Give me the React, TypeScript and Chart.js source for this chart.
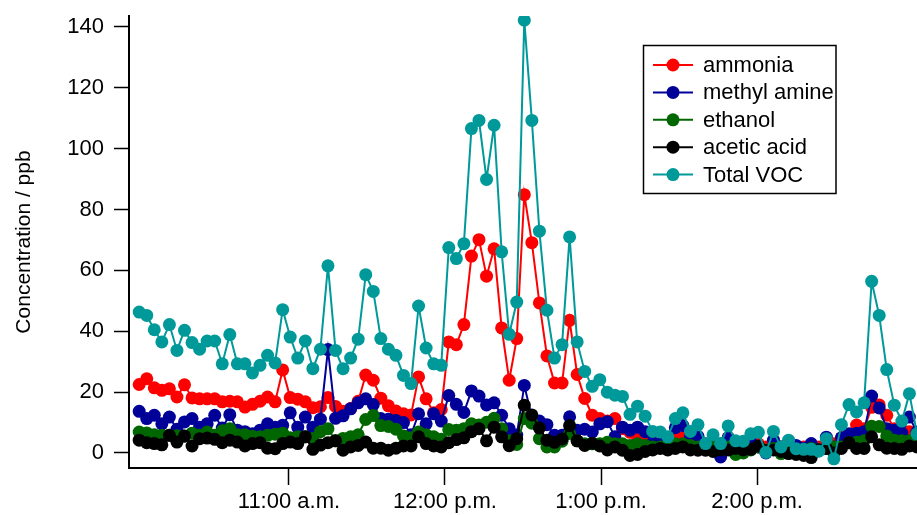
import { useEffect, useRef } from "react";
import { Chart, registerables } from "chart.js";

Chart.register(...registerables);

const FONT = "'Liberation Sans', Arial, sans-serif";

const SERIES_NAMES = ["ammonia", "methyl amine", "ethanol", "acetic acid", "Total VOC"];
const SERIES_COLORS = ["#ff0000", "#000099", "#006600", "#000000", "#009999"];

// sampling grid (minutes after midnight)
const FIRST_SAMPLE_MIN = 602.42;
const SAMPLE_STEP_MIN = 2.9035;

const X_MIN = 598.5;
const X_MAX = 901.5;
const HOUR_TICKS = [660, 720, 780, 840];
const HOUR_LABELS = ["11:00 a.m.", "12:00 p.m.", "1:00 p.m.", "2:00 p.m."];
const Y_TICKS = [0, 20, 40, 60, 80, 100, 120, 140];

const AMMONIA = [
  22.5, 24.4, 21.4, 20.6, 21.1, 18.4, 22.4, 18.1, 17.8, 17.8,
  17.8, 16.8, 17.0, 16.8, 15.1, 16.0, 17.0, 18.4, 16.8, 27.3,
  18.2, 17.7, 16.8, 14.9, 15.2, 18.2, 15.3, 13.7, 14.6, 17.0,
  25.6, 23.9, 18.0, 15.5, 13.8, 12.9, 12.5, 25.0, 17.8, 13.2,
  14.3, 36.5, 35.6, 42.2, 64.7, 70.1, 58.1, 67.1, 41.1, 23.9,
  37.6, 84.9, 69.1, 49.3, 31.9, 23.0, 23.0, 43.6, 25.8, 17.9,
  12.4, 11.3, 10.5, 11.3, 8.0, 6.8, 5.0, 4.5, 3.5, 3.0,
  2.5, 4.5, 5.0, 4.0, 3.0, 3.0, 3.0, 3.0, 5.0, 3.0,
  3.0, 3.0, 3.0, 2.0, 3.0, 2.0, 3.0, 2.0, 2.0, 2.0,
  2.0, 3.0, 3.0, 5.0, 6.0, 9.2, 8.0, 15.0, 15.8, 12.4,
  8.0, 6.0, 7.0, 4.0,
];

const METHYL_AMINE = [
  13.7, 11.3, 12.4, 9.6, 11.8, 7.8, 10.2, 11.3, 8.5, 9.6,
  12.4, 8.2, 12.6, 7.5, 7.0, 6.3, 7.5, 9.6, 8.5, 9.1,
  13.2, 8.5, 11.8, 8.5, 11.1, 34.0, 11.4, 12.2, 14.5, 16.5,
  17.8, 15.9, 11.3, 11.1, 10.7, 10.0, 6.0, 12.9, 9.6, 12.9,
  10.5, 18.9, 16.0, 13.3, 20.4, 18.7, 15.8, 16.5, 12.4, 8.0,
  5.9, 22.2, 11.8, 10.5, 9.3, 5.8, 5.8, 11.9, 7.5, 7.8,
  6.9, 9.6, 10.3, 5.3, 8.5, 7.5, 8.5, 7.0, 3.4, 3.0,
  3.5, 8.3, 9.0, 5.3, 5.5, 2.5, 3.0, -1.3, 5.0, 3.0,
  3.5, 3.5, 2.0, 0.0, 4.2, 2.0, 3.5, 2.5, 1.5, 3.1,
  1.0, 5.2, 2.0, 5.0, 6.3, 6.5, 7.0, 18.7, 14.8, 8.0,
  7.5, 6.5, 11.8, 6.9,
];

const ETHANOL = [
  6.9, 6.6, 6.0, 5.8, 5.8, 5.7, 5.5, 6.5, 5.8, 6.9,
  5.8, 7.3, 8.0, 6.0, 6.0, 5.5, 5.3, 5.8, 6.2, 6.5,
  5.0, 5.3, 5.3, 4.8, 7.0, 8.0, 4.0, 4.8, 5.3, 6.0,
  11.0, 12.3, 9.0, 8.7, 7.8, 5.6, 5.0, 6.9, 6.0, 5.3,
  4.5, 7.7, 7.5, 8.0, 9.6, 9.2, 10.1, 11.4, 8.0, 4.0,
  2.8, 11.3, 9.8, 4.7, 2.0, 2.0, 3.9, 6.4, 4.0, 3.0,
  3.0, 3.0, 3.5, 3.0, 3.0, 2.5, 3.0, 2.5, 2.0, 2.0,
  2.5, 3.0, 3.0, 2.5, 2.0, 2.0, 2.0, 1.5, 2.0, -0.5,
  0.0, 1.0, 2.0, 1.0, 1.5, -0.2, 1.5, 1.0, 1.0, 1.5,
  1.0, 1.5, 2.0, 2.0, 3.4, 3.5, 4.0, 8.8, 8.7, 5.6,
  4.2, 4.0, 4.0, 3.0,
];

const ACETIC_ACID = [
  4.2, 3.4, 3.1, 2.7, 5.8, 3.6, 5.6, 2.3, 4.7, 4.9,
  4.5, 3.4, 4.2, 3.6, 2.3, 3.1, 3.4, 1.6, 1.4, 3.1,
  3.6, 3.1, 5.3, 1.2, 2.6, 3.4, 4.0, 0.9, 2.0, 2.5,
  3.6, 1.6, 1.6, 0.9, 1.6, 2.3, 2.3, 5.3, 3.1, 2.3,
  2.0, 3.4, 4.4, 5.0, 7.0, 8.0, 4.0, 8.5, 5.3, 2.4,
  4.7, 15.7, 12.5, 8.2, 4.2, 3.5, 4.6, 9.0, 4.0, 2.5,
  3.2, 2.3, 1.0, 2.0, 0.9, -0.8, -0.5, 0.5, 1.0, 1.5,
  1.0, 1.5, 2.0, 1.0, 0.9, 0.9, 0.5, 1.0, 1.0, 1.5,
  1.0, 1.2, 2.3, 0.8, 1.0, 0.5, -0.2, -0.5, -0.8, -1.5,
  1.0, 1.5, 0.0, 1.5, 3.4, 1.5, 1.5, 5.3, 2.7, 1.6,
  1.5, 1.2, 2.3, 2.0,
];

const TOTAL_VOC = [
  46.3, 45.2, 40.5, 36.5, 42.2, 33.7, 40.3, 36.3, 34.1, 36.8,
  36.8, 29.3, 38.9, 29.3, 29.3, 26.3, 28.8, 32.1, 29.6, 47.1,
  38.1, 31.2, 36.8, 27.7, 34.1, 61.5, 33.7, 27.7, 31.2, 37.4,
  58.6, 53.1, 37.6, 34.1, 32.1, 25.5, 22.8, 48.3, 34.5, 29.3,
  28.8, 67.5, 63.9, 68.8, 106.6, 109.3, 89.9, 107.7, 66.1, 39.0,
  49.6, 142.2, 109.3, 72.9, 46.9, 31.2, 35.6, 71.0, 36.5, 26.8,
  21.9, 24.1, 20.0, 19.0, 18.6, 12.7, 15.4, 12.1, 7.1, 6.9,
  5.3, 11.3, 13.2, 7.1, 9.3, 3.1, 6.0, 3.1, 8.9, 4.0,
  3.9, 6.3, 6.8, 0.2, 7.1, 2.0, 4.2, 1.4, 1.2, 1.2,
  0.6, 4.7, -1.9, 9.3, 15.9, 13.5, 16.5, 56.4, 45.2, 27.4,
  15.7, 10.5, 19.5, 6.3,
];

const SERIES_VALUES = [AMMONIA, METHYL_AMINE, ETHANOL, ACETIC_ACID, TOTAL_VOC];

const legendPlugin = {
  id: "boxLegend",
  afterDraw(chart: any) {
    const ctx = chart.ctx;
    ctx.save();
    ctx.strokeStyle = "#000";
    ctx.lineWidth = 1.5;
    ctx.strokeRect(643.5, 45.5, 192.5, 148);
    SERIES_NAMES.forEach((name, i) => {
      const y = 65 + i * 27.4;
      ctx.strokeStyle = SERIES_COLORS[i];
      ctx.lineWidth = 2;
      ctx.beginPath();
      ctx.moveTo(653, y);
      ctx.lineTo(693, y);
      ctx.stroke();
      ctx.fillStyle = SERIES_COLORS[i];
      ctx.beginPath();
      ctx.arc(673, y, 6.5, 0, Math.PI * 2);
      ctx.fill();
      ctx.fillStyle = "#000";
      ctx.font = `22px ${FONT}`;
      ctx.textAlign = "left";
      ctx.textBaseline = "middle";
      ctx.fillText(name, 703, y + 1);
    });
    ctx.restore();
  },
};

export default function App() {
  const canvasRef = useRef<HTMLCanvasElement | null>(null);

  useEffect(() => {
    const canvas = canvasRef.current;
    if (!canvas) return;
    const times = TOTAL_VOC.map((_, i) => FIRST_SAMPLE_MIN + i * SAMPLE_STEP_MIN);
    const drawOrder = [4, 3, 2, 1, 0];
    const chart = new Chart(canvas, {
      type: "line",
      data: {
        datasets: SERIES_NAMES.map((name, s) => ({
          label: name,
          data: SERIES_VALUES[s].map((v, i) => ({ x: times[i], y: v })),
          borderColor: SERIES_COLORS[s],
          backgroundColor: SERIES_COLORS[s],
          pointBackgroundColor: SERIES_COLORS[s],
          pointBorderWidth: 0,
          pointRadius: 6.5,
          borderWidth: 2,
          tension: 0,
          order: drawOrder[s],
        })),
      },
      options: {
        animation: false,
        responsive: false,
        events: [],
        layout: { autoPadding: false, padding: { top: 16, right: 0, bottom: 0, left: 0 } },
        plugins: {
          legend: { display: false },
          tooltip: { enabled: false },
        },
        scales: {
          x: {
            type: "linear",
            min: X_MIN,
            max: X_MAX,
            afterBuildTicks: (scale: any) => {
              scale.ticks = HOUR_TICKS.map((v) => ({ value: v }));
            },
            afterFit: (scale: any) => {
              scale.height = 47;
              scale.paddingLeft = 0;
              scale.paddingRight = 0;
            },
            grid: {
              drawOnChartArea: false,
              drawTicks: true,
              tickLength: 17,
              color: "#000",
              tickWidth: 1.5,
            },
            border: { display: true, color: "#000", width: 2 },
            ticks: {
              color: "#000",
              font: { family: FONT, size: 22 },
              padding: 4,
              autoSkip: false,
              maxRotation: 0,
              callback: (value: any) => {
                const idx = HOUR_TICKS.indexOf(Number(value));
                return idx >= 0 ? HOUR_LABELS[idx] : "";
              },
            },
          },
          y: {
            min: -4.93,
            max: 143.6,
            afterBuildTicks: (scale: any) => {
              scale.ticks = Y_TICKS.map((v) => ({ value: v }));
            },
            afterFit: (scale: any) => {
              scale.width = 129;
              scale.paddingTop = 0;
              scale.paddingBottom = 0;
            },
            grid: {
              drawOnChartArea: false,
              drawTicks: true,
              tickLength: 15,
              color: "#000",
              tickWidth: 1.5,
            },
            border: { display: true, color: "#000", width: 2 },
            ticks: {
              color: "#000",
              font: { family: FONT, size: 22 },
              padding: 10,
            },
            title: {
              display: true,
              text: "Concentration / ppb",
              color: "#000",
              font: { family: FONT, size: 21 },
              padding: { top: 12, bottom: 0 },
            },
          },
        },
      },
      plugins: [legendPlugin],
    } as any);
    return () => chart.destroy();
  }, []);

  return (
    <div style={{ position: "fixed", left: 0, top: 0, width: 917, height: 515, background: "#fff" }}>
      <canvas ref={canvasRef} width={917} height={515} />
    </div>
  );
}
